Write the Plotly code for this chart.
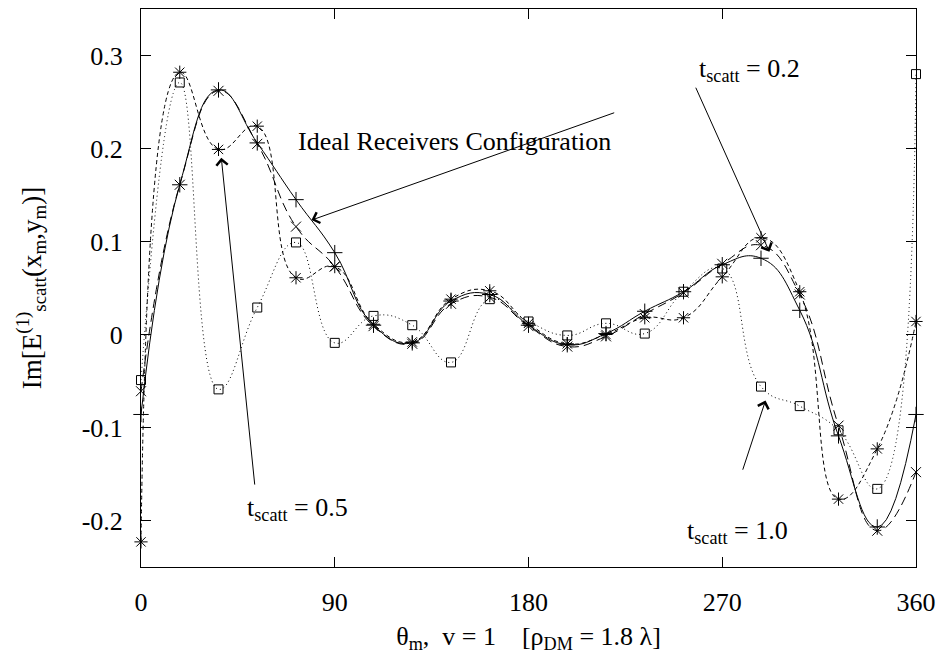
import plotly.graph_objects as go

# Receiver angle (degrees), one sample every 18 degrees
theta = [0, 18, 36, 54, 72, 90, 108, 126, 144, 162, 180,
         198, 216, 234, 252, 270, 288, 306, 324, 342, 360]

# Im[E_scatt^(1)(x_m, y_m)] for each configuration
ideal = [-0.086, 0.161, 0.263, 0.206, 0.145, 0.088, 0.010, -0.009, 0.036, 0.043, 0.010,
         -0.011, 0.001, 0.025, 0.046, 0.075, 0.082, 0.026, -0.109, -0.207, -0.086]
t_02 = [-0.061, 0.161, 0.262, 0.205, 0.116, 0.073, 0.009, -0.010, 0.033, 0.040, 0.009,
        -0.013, -0.002, 0.022, 0.045, 0.076, 0.096, 0.043, -0.098, -0.211, -0.148]
t_05 = [-0.223, 0.282, 0.199, 0.224, 0.061, 0.073, 0.011, -0.008, 0.038, 0.047, 0.012,
        -0.010, 0.000, 0.018, 0.018, 0.062, 0.104, 0.046, -0.177, -0.123, 0.014]
t_10 = [-0.049, 0.271, -0.059, 0.029, 0.099, -0.009, 0.020, 0.010, -0.030, 0.038, 0.014,
        -0.001, 0.012, 0.001, 0.046, 0.071, -0.056, -0.077, -0.103, -0.166, 0.280]

x_ticks = [0, 90, 180, 270, 360]
y_ticks = [-0.2, -0.1, 0, 0.1, 0.2, 0.3]
y_tick_text = ["-0.2", "-0.1", "0", "0.1", "0.2", "0.3"]

FONT = "Liberation Serif, Times New Roman, serif"
FS = 26

series = [
    (ideal, "solid", "cross-thin", 11),
    (t_02, "9px,5px", "x-thin", 10),
    (t_05, "4px,3px", "asterisk", 11),
    (t_10, "1px,3px", "square-open", 9),
]

fig = go.Figure()
for values, dash, symbol, size in series:
    fig.add_trace(go.Scatter(
        x=theta, y=values, mode="lines+markers", cliponaxis=False,
        line=dict(color="black", width=1, dash=dash, shape="spline", smoothing=1.3),
        marker=dict(symbol=symbol, size=size, color="black",
                    line=dict(color="black", width=1)),
        showlegend=False,
    ))

annotations = []

def label(x, y, text):
    annotations.append(dict(x=x, y=y, xref="x", yref="y", text=text, showarrow=False,
                            xanchor="left", yanchor="middle",
                            font=dict(family=FONT, size=FS, color="black")))

def arrow(x_tip, y_tip, x_tail, y_tail):
    annotations.append(dict(x=x_tip, y=y_tip, xref="x", yref="y",
                            ax=x_tail, ay=y_tail, axref="x", ayref="y",
                            text="", showarrow=True, arrowhead=4, arrowsize=2.2,
                            arrowwidth=1, arrowcolor="black", standoff=0))

label(71.8, 0.207, "Ideal Receivers Configuration")
arrow(79.2, 0.123, 220.5, 0.239)

label(258.3, 0.284, "t<sub>scatt</sub> = 0.2")
arrow(291.9, 0.089, 257.4, 0.267)

label(48.3, -0.188, "t<sub>scatt</sub> = 0.5")
arrow(37.3, 0.190, 52.9, -0.163)

label(252.8, -0.212, "t<sub>scatt</sub> = 1.0")
arrow(290.1, -0.071, 279.3, -0.147)

axis_common = dict(showline=True, linecolor="black", linewidth=1, mirror="ticks",
                   ticks="inside", ticklen=10, tickwidth=1, tickcolor="black",
                   showgrid=False, zeroline=False,
                   tickfont=dict(family=FONT, size=FS, color="black"))

fig.update_layout(
    width=944, height=657,
    margin=dict(l=141, r=21, t=8, b=90),
    paper_bgcolor="white", plot_bgcolor="white",
    font=dict(family=FONT, size=FS, color="black"),
    annotations=annotations,
    xaxis=dict(range=[0, 360], tickvals=x_ticks, ticklabelstandoff=12,
               title=dict(text="θ<sub>m</sub>,  v = 1    [ρ<sub>DM</sub> = 1.8 λ]",
                          font=dict(family=FONT, size=FS, color="black"), standoff=10),
               **axis_common),
    yaxis=dict(range=[-0.25, 0.35], tickvals=y_ticks, ticktext=y_tick_text,
               ticklabelstandoff=12,
               title=dict(text="Im[E<sup>(1)</sup><sub>scatt</sub>(x<sub>m</sub>,y<sub>m</sub>)]",
                          font=dict(family=FONT, size=27, color="black"), standoff=32),
               **axis_common),
)

fig.write_html("out.html")
